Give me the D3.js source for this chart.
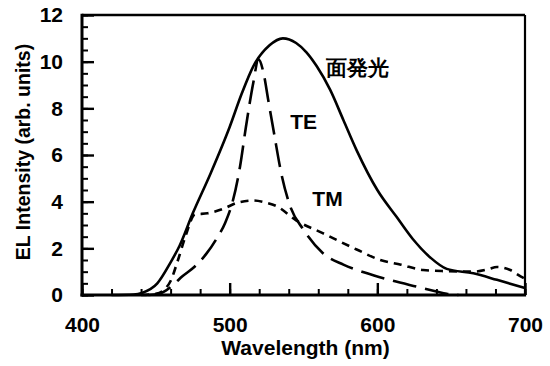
<!DOCTYPE html>
<html>
<head>
<meta charset="utf-8">
<script src="https://cdn.jsdelivr.net/npm/d3@7"></script>
<style>
  html, body { margin: 0; padding: 0; background: #fff; }
  svg { display: block; }
  text { font-family: "Liberation Sans", Arial, Helvetica, sans-serif; font-weight: bold; fill: #000; }
</style>
</head>
<body>
<svg id="chart" width="550" height="366"></svg>
<script>
// Emission spectra: surface emission (面発光), TE and TM edge emission
const surfaceNm = [420, 435, 441, 451, 460, 466, 475, 487, 500, 508, 516, 527, 536, 545, 552, 559, 568, 577, 586, 600, 613, 624, 636, 647, 665, 681, 700];
const surfaceI  = [0, 0.02, 0.1, 0.5, 1.4, 2.1, 3.5, 5.2, 7.2, 8.6, 9.8, 10.7, 11.0, 10.8, 10.4, 9.8, 8.8, 7.5, 6.2, 4.5, 3.35, 2.4, 1.6, 1.12, 0.93, 0.65, 0.3];

const teNm = [445, 452, 457, 462, 468, 476, 484, 491, 497, 502, 507, 511, 516, 519.5, 523, 526, 530, 535, 541, 550, 563, 577, 592, 608, 627, 640, 647, 655];
const teI  = [0, 0.05, 0.2, 0.45, 0.8, 1.2, 1.75, 2.4, 3.1, 4.0, 5.5, 7.2, 9.1, 10.1, 9.5, 8.4, 6.95, 5.2, 3.8, 2.8, 1.8, 1.3, 0.95, 0.65, 0.35, 0.15, 0.05, 0];

const tmNm = [440, 450, 456, 460, 465, 470, 476.5, 485, 496, 505, 516, 525, 532, 545, 563, 586, 602, 616, 631, 647, 665, 675, 681, 690, 697, 700];
const tmI  = [0, 0.05, 0.25, 0.6, 1.5, 2.5, 3.45, 3.5, 3.7, 3.95, 4.05, 3.95, 3.8, 3.2, 2.65, 1.95, 1.5, 1.3, 1.07, 1.02, 1.0, 1.1, 1.2, 1.07, 0.8, 0.7];

const xMajor = [400, 500, 600, 700];
const xMinor = d3.range(400, 701, 20);
const yMajor = [0, 2, 4, 6, 8, 10, 12];
const yMinor = d3.range(0, 12.01, 0.5);

const curveLabels = [
  { text: "面発光", nm: 565, val: 9.45 },
  { text: "TE",     nm: 541, val: 7.1 },
  { text: "TM",     nm: 556, val: 3.8 }
];

const svg = d3.select("#chart");
const plot = { left: 82, right: 525, top: 15, bottom: 295 };

const x = d3.scaleLinear().domain([400, 700]).range([plot.left, plot.right]);
const y = d3.scaleLinear().domain([0, 12]).range([plot.bottom, plot.top]);

// minor ticks, pointing into the plot
svg.append("g")
  .attr("transform", `translate(0,${plot.bottom})`)
  .call(d3.axisBottom(x).tickValues(xMinor).tickSize(-6).tickFormat(""))
  .call(g => g.select(".domain").remove())
  .call(g => g.selectAll("line").attr("stroke", "#000").attr("stroke-width", 2));
svg.append("g")
  .attr("transform", `translate(${plot.left},0)`)
  .call(d3.axisLeft(y).tickValues(yMinor).tickSize(-6).tickFormat(""))
  .call(g => g.select(".domain").remove())
  .call(g => g.selectAll("line").attr("stroke", "#000").attr("stroke-width", 2));

// major ticks with labels
svg.append("g")
  .attr("transform", `translate(0,${plot.bottom})`)
  .call(d3.axisBottom(x).tickValues(xMajor).tickSize(-12).tickPadding(22).tickFormat(d3.format("d")))
  .call(g => g.select(".domain").remove())
  .call(g => g.selectAll("line").attr("stroke", "#000").attr("stroke-width", 2.4))
  .call(g => g.selectAll("text").attr("font-size", 21).attr("font-family", null));
svg.append("g")
  .attr("transform", `translate(${plot.left},0)`)
  .call(d3.axisLeft(y).tickValues(yMajor).tickSize(-12).tickPadding(19).tickFormat(d3.format("d")))
  .call(g => g.select(".domain").remove())
  .call(g => g.selectAll("line").attr("stroke", "#000").attr("stroke-width", 2.4))
  .call(g => g.selectAll("text").attr("font-size", 21).attr("font-family", null));

// plot frame
const frame = svg.append("g").attr("stroke", "#000").attr("fill", "none");
frame.append("line").attr("x1", plot.left).attr("x2", plot.right).attr("y1", plot.top).attr("y2", plot.top).attr("stroke-width", 2.4);
frame.append("line").attr("x1", plot.right).attr("x2", plot.right).attr("y1", plot.top).attr("y2", plot.bottom).attr("stroke-width", 2.2);
frame.append("line").attr("x1", plot.left).attr("x2", plot.left).attr("y1", plot.top - 1.2).attr("y2", plot.bottom + 1.5).attr("stroke-width", 3);
frame.append("line").attr("x1", plot.left - 1.5).attr("x2", plot.right + 1.1).attr("y1", plot.bottom).attr("y2", plot.bottom).attr("stroke-width", 3);

// spectra
const line = d3.line().x(d => x(d[0])).y(d => y(d[1])).curve(d3.curveMonotoneX);
const series = [
  { nm: surfaceNm, val: surfaceI, dash: null },
  { nm: teNm,      val: teI,      dash: "24,9" },
  { nm: tmNm,      val: tmI,      dash: "8,6" }
];
svg.append("g").selectAll("path")
  .data(series)
  .join("path")
  .attr("d", s => line(s.nm.map((n, i) => [n, s.val[i]])))
  .attr("fill", "none")
  .attr("stroke", "#000")
  .attr("stroke-width", 2.6)
  .attr("stroke-linejoin", "round")
  .attr("stroke-dasharray", s => s.dash);

// curve labels
svg.append("g").selectAll("text")
  .data(curveLabels)
  .join("text")
  .attr("x", d => x(d.nm))
  .attr("y", d => y(d.val))
  .attr("font-size", 21)
  .attr("font-family", d => /[^\x00-\x7F]/.test(d.text) ? "'Noto Sans CJK JP', sans-serif" : null)
  .text(d => d.text);

// axis titles
svg.append("text")
  .attr("x", (plot.left + plot.right) / 2 + 2)
  .attr("y", 355)
  .attr("text-anchor", "middle")
  .attr("font-size", 21)
  .text("Wavelength (nm)");
svg.append("text")
  .attr("transform", `translate(30,${(plot.top + plot.bottom) / 2 - 3}) rotate(-90)`)
  .attr("text-anchor", "middle")
  .attr("font-size", 19.5)
  .text("EL Intensity (arb. units)");
</script>
</body>
</html>
